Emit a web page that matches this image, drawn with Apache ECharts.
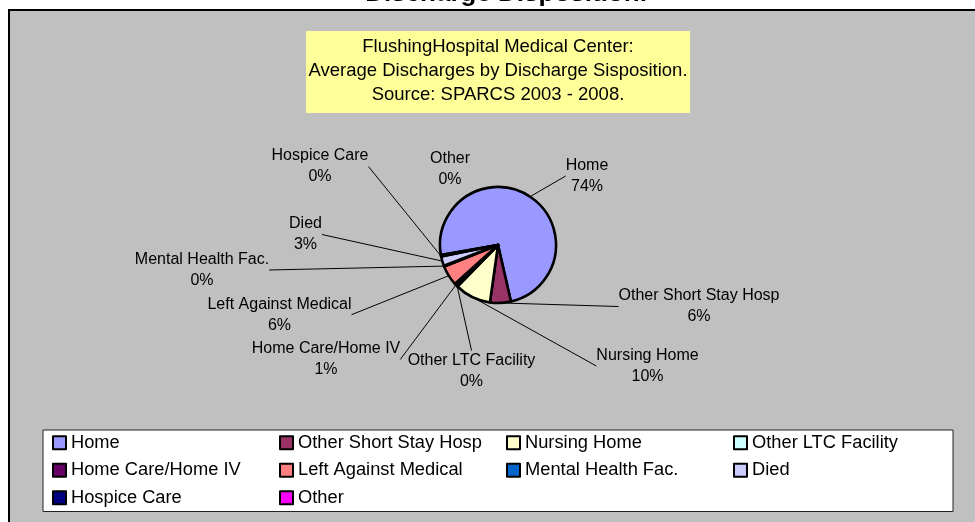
<!DOCTYPE html>
<html><head><meta charset="utf-8">
<script src="https://cdn.jsdelivr.net/npm/echarts@6/dist/echarts.min.js"></script>
<style>html,body{margin:0;padding:0;background:#fff}#c{width:975px;height:522px}</style>
</head><body><div id="c"></div>
<script>
// ---- data ----
const categories = ['Home','Other Short Stay Hosp','Nursing Home','Other LTC Facility','Home Care/Home IV','Left Against Medical','Mental Health Fac.','Died','Hospice Care','Other'];
const shares = [74.2, 5.8, 10.1, 0.2, 0.8, 5.6, 0.3, 2.6, 0.2, 0.2];
const colors = ['#9999FF','#993366','#FFFFCC','#CCFFFF','#660066','#FF8080','#0066CC','#CCCCFF','#000080','#FF00FF'];
const titleText = 'Discharge Disposition.';
const noteLines = ['FlushingHospital Medical Center:','Average Discharges by Discharge Sisposition.','Source: SPARCS 2003 - 2008.'];
// label block centres (layout only)
const labelPos = [[587,176],[699,306.5],[647.5,366],[471.5,371.5],[326,359.5],[279.5,314.7],[202,270],[305.5,234.5],[320,166.5],[450,169.5]];

const FONT = '"Liberation Sans", Arial, sans-serif';
const chart = echarts.init(document.getElementById('c'), null, {renderer:'canvas'});
chart.setOption({
  animation: false,
  backgroundColor: '#ffffff',
  color: colors,
  graphic: [
    {type:'rect', z:0, shape:{x:9, y:10, width:1000, height:600}, style:{fill:'#C0C0C0', stroke:'#000', lineWidth:2}},
    {type:'text', z:1, x:506, y:-6, style:{text:titleText, font:'bold 26px ' + FONT, fill:'#000', align:'center', verticalAlign:'middle'}},
    {type:'rect', z:1, shape:{x:306, y:31, width:384, height:82}, style:{fill:'#FFFF99'}},
    {type:'text', z:2, x:498, y:71, style:{text:noteLines.join('\n'), fontSize:18.5, fontFamily:FONT, lineHeight:24, fill:'#000', align:'center', verticalAlign:'middle'}}
  ],
  legend: {
    left: 43, top: 430, width: 920,
    orient: 'horizontal',
    backgroundColor: '#fff', borderColor: '#222', borderWidth: 1,
    padding: [3,1,4,9],
    itemWidth: 13, itemHeight: 13, itemGap: 8,
    icon: 'rect',
    itemStyle: {borderColor:'#000', borderWidth:2},
    textStyle: {fontSize:18.3, color:'#000', fontFamily:FONT, width:200, lineHeight:19.5},
    selectedMode: false,
    data: categories
  },
  series: [{
    type: 'pie',
    center: [498, 245],
    radius: 58,
    startAngle: 190,
    clockwise: true,
    percentPrecision: 0,
    avoidLabelOverlap: false,
    emphasis: {disabled: true},
    itemStyle: {borderColor:'#000', borderWidth:2.6},
    label: {show:true, position:'outside', formatter:'{b}\n{d}%', fontSize:16, lineHeight:21, color:'#000', fontFamily:FONT},
    labelLine: {show:true, length:10, length2:0, lineStyle:{color:'#000', width:1}},
    labelLayout: function (p) {
      const q = labelPos[p.dataIndex];
      return {x:q[0], y:q[1], align:'center', verticalAlign:'middle', hideOverlap:false};
    },
    data: categories.map((n, i) => ({
      name: n, value: shares[i],
      itemStyle: {color: colors[i]},
      labelLine: n === 'Other' ? {show:false} : undefined
    }))
  }]
});
</script></body></html>
